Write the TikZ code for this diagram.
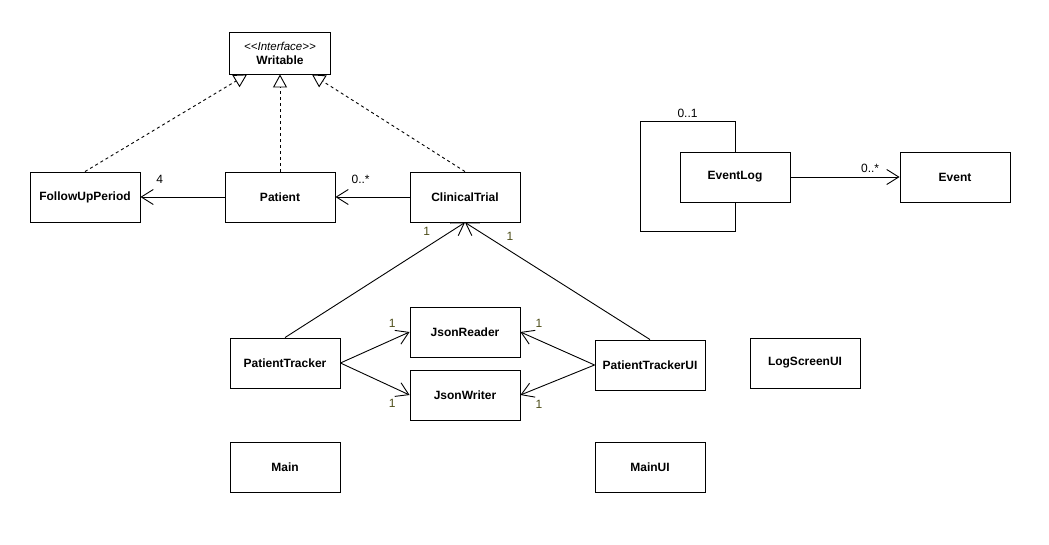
\documentclass[tikz,border=0pt]{standalone}
\usepackage{fontspec}
\setmainfont{Liberation Sans}
\newfontfamily\stereofont{Liberation Sans}
\usetikzlibrary{arrows.meta,positioning}
\definecolor{multolive}{RGB}{77,77,25}
\tikzset{cls/.style={draw, line width=0.9pt, minimum width=110pt, minimum height=50pt,
                     inner sep=0pt, font=\fontsize{12}{14}\selectfont\bfseries},
assoc/.style={line width=0.9pt, -{Straight Barb[length=12pt,width=15pt,line width=0.9pt]}},
real/.style={line width=0.9pt, dash pattern=on 3pt off 3pt,
             -{Triangle[open,length=13pt,width=14pt,line width=0.9pt]}},
mult/.style={font=\fontsize{12}{14}\selectfont, inner sep=1pt},
multone/.style={mult, text=multolive}
}

\begin{document}
\begin{tikzpicture}[x=1pt, y=-1pt, on grid]
        \useasboundingbox (0,0) rectangle (1049,545);

        % model classes
        \node[cls]                          (pat)   at (280,197) {Patient};
        \node[cls, left=195pt of pat]       (fup)                {FollowUpPeriod};
        \node[cls, right=185pt of pat]      (ct)                 {ClinicalTrial};
        \node[cls, minimum width=101pt, minimum height=42pt, align=center,
              above=144pt of pat]           (writ)               {{\stereofont\mdseries\itshape\fontsize{11.5}{13}\selectfont <<Interface>>}\\Writable};
        \node[cls]                          (el)    at (735,177) {EventLog};
        \node[cls, right=220pt of el]       (ev)                 {Event};

        % persistence and ui
        \node[cls]                          (pt)    at (285,363) {PatientTracker};
        \node[cls]                          (jr)    at (465,332) {JsonReader};
        \node[cls, below=63pt of jr]        (jw)                 {JsonWriter};
        \node[cls]                          (ptui)  at (650,365) {PatientTrackerUI};
        \node[cls]                          (lsui)  at (805,363) {LogScreenUI};
        \node[cls, below=104pt of pt]       (main)               {Main};
        \node[cls, below=102pt of ptui]     (mainui)             {MainUI};

        \draw[real] (fup.north) -- ([xshift=18pt]writ.south west);
        \draw[real] (pat.north) -- (writ.south);
        \draw[real] (ct.north)  -- ([xshift=-19pt]writ.south east);

        \draw[assoc] (pat) -- node[mult, pos=0.77, above=12pt] (m_fup) {4} (fup);
        \draw[assoc] (ct)  -- node[mult, pos=0.66, above=12pt] (m_pat) {0..*} (pat);
        \draw[assoc] (el)  -- node[mult, pos=0.73, above=3pt]  (m_ev)  {0..*} (ev);
        \draw[line width=0.9pt] (el.north) -- ++(0,-30) -- ++(-95,0) node[mult, midway, above=2pt] (m_el) {0..1}
                                -- ++(0,110) -- ++(95,0) -- (el.south);

        \draw[assoc] (pt.north)   -- node[multone, pos=0.92, left=19pt]  (m_ct1) {1} (ct.south);
        \draw[assoc] (ptui.north) -- node[multone, pos=0.88, right=18pt] (m_ct2) {1} (ct.south);
        \draw[assoc] (pt.east)    -- node[multone, pos=0.75, above=11pt] (m_jr1) {1} (jr.west);
        \draw[assoc] (pt.east)    -- node[multone, pos=0.75, below=11pt] (m_jw1) {1} (jw.west);
        \draw[assoc] (ptui.west)  -- node[multone, pos=0.75, above=11pt] (m_jr2) {1} (jr.east);
        \draw[assoc] (ptui.west)  -- node[multone, pos=0.75, below=11pt] (m_jw2) {1} (jw.east);
\end{tikzpicture}
\end{document}
